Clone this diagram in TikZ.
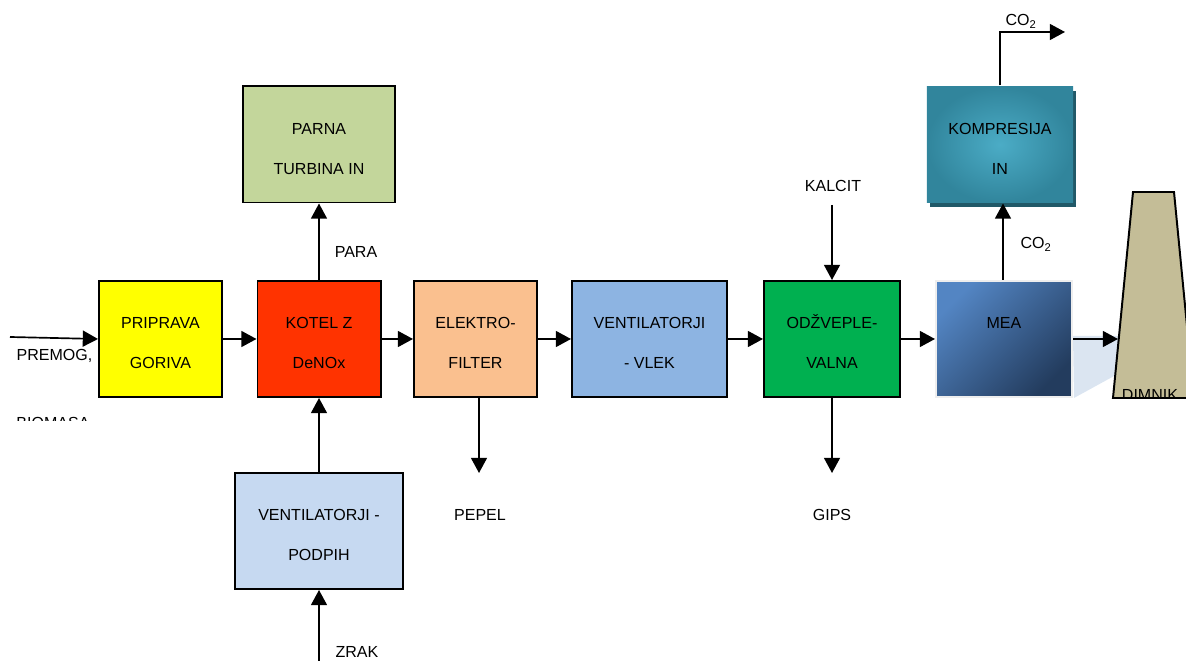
\documentclass[tikz,border=0pt]{standalone}
\usepackage{fontspec}
\setmainfont{Liberation Sans}
\usetikzlibrary{positioning, arrows.meta, shadows}

\definecolor{gorivo}{HTML}{FFFF00}
\definecolor{kotelc}{HTML}{FF3300}
\definecolor{filterc}{HTML}{FAC08F}
\definecolor{vlekc}{HTML}{8DB4E2}
\definecolor{odzvc}{HTML}{00B050}
\definecolor{turbc}{HTML}{C3D69B}
\definecolor{podpihc}{HTML}{C6D9F1}
\definecolor{meatop}{HTML}{5385C3}
\definecolor{meabot}{HTML}{233C5E}
\definecolor{meaedge}{HTML}{EEEEEE}
\definecolor{measenca}{HTML}{DBE5F1}
\definecolor{kompout}{HTML}{31859C}
\definecolor{kompin}{HTML}{4BACC6}
\definecolor{kompsenca}{HTML}{215968}
\definecolor{dimnikc}{HTML}{C4BD97}

% two lines of box text, pushed a little below the middle
\newcommand{\dvevrsti}[2]{\rule{0pt}{14pt}#1\\#2}

\tikzset{
  blok/.style    = {draw, line width=1.4pt, inner sep=0pt, minimum height=2.9cm,
                    align=center, font=\fontsize{11.4}{28.45}\selectfont},
  oznaka/.style  = {inner sep=0pt, anchor=base, font=\fontsize{11.4}{13.7}\selectfont},
  arr/.style     = {-{Triangle[length=0.38cm, width=0.4cm]}, line width=1.2pt}
}

\begin{document}
\begin{tikzpicture}[x=0.025cm, y=-0.025cm]
  \useasboundingbox (0,0) rectangle (1186,661);

  \fill[measenca] (1073,336) -- (1125,336) -- (1125,370) -- (1074,398) -- cycle;

  \node[blok, fill=gorivo,  minimum width=3.075cm] (prip)    at (160.5,339) {\dvevrsti{PRIPRAVA}{GORIVA}};
  \node[blok, fill=kotelc,  minimum width=3.075cm] (kotel)   at (319,339)   {\dvevrsti{KOTEL Z}{DeNOx}};
  \node[blok, fill=filterc, minimum width=3.075cm] (efilter) at (475.5,339) {\dvevrsti{ELEKTRO-}{FILTER}};
  \node[blok, fill=vlekc,   minimum width=3.875cm] (vlek)    at (649.5,339) {\dvevrsti{VENTILATORJI}{- VLEK}};
  \node[blok, fill=odzvc,   minimum width=3.4cm]   (odzv)    at (832,339)   {\dvevrsti{ODŽVEPLE-}{VALNA}};
  \node[blok, draw=meaedge, top color=meatop, bottom color=meabot, shading angle=45,
        minimum width=3.4cm] (mea) at (1004,339) {\dvevrsti{MEA}{}};
  \node[blok, fill=turbc,   minimum width=3.775cm] (turb)    at (319,144.5) {\dvevrsti{PARNA}{TURBINA IN}};
  \node[blok, fill=podpihc, minimum width=4.175cm] (podpih)  at (319,531)   {\dvevrsti{VENTILATORJI -}{PODPIH}};
  \node[blok, draw=none, inner color=kompin, outer color=kompout, minimum width=3.65cm,
        drop shadow={shadow xshift=0.08cm, shadow yshift=-0.12cm, fill=kompsenca, opacity=1}]
        (kompr) at (1000,144.5) {\dvevrsti{KOMPRESIJA}{IN}};

  % dimnik
  \fill[dimnikc] (1133,192) -- (1174,192) -- (1194,398) -- (1113,398) -- cycle;
  \begin{scope}
    \clip (1100,180) rectangle (1190,398);
    \node[oznaka] (dimnik) at (1150,400.5) {DIMNIK};
  \end{scope}
  \draw[line width=1.4pt] (1133,192) -- (1174,192) -- (1194,398) -- (1113,398) -- cycle;

  \node[oznaka] (premog) at (54.5,361) {PREMOG,};
  \begin{scope}
    \clip (0,0) rectangle (100,421);
    \node[oznaka] (biomasa) at (53,428.5) {BIOMASA};
  \end{scope}
  \node[oznaka] (para)   at (356,258) {PARA};
  \node[oznaka] (zrak)   at (357,658) {ZRAK};
  \node[oznaka] (pepel)  at (480,521) {PEPEL};
  \node[oznaka] (gips)   at (832,521) {GIPS};
  \node[oznaka] (kalcit) at (833,192) {KALCIT};
  \node[oznaka] (co2a)   at (1036,249) {CO\textsubscript{2}};
  \node[oznaka] (co2b)   at (1021,25.5) {CO\textsubscript{2}};

  \coordinate (vhod)    at (10,337);
  \coordinate (zrakin)  at (319,661);
  \coordinate (pepelend) at (479,473);
  \coordinate (kalcitin) at (832,205);
  \coordinate (gipsend) at (832,473);
  \coordinate (dimvhod) at (1118,339);
  \coordinate (kolen)   at (1000,32);
  \coordinate (co2end)  at (1065,32);

  \draw[arr] (vhod) -- (prip.west);
  \draw[arr] (prip) -- (kotel);
  \draw[arr] (kotel) -- (efilter);
  \draw[arr] (efilter) -- (vlek);
  \draw[arr] (vlek) -- (odzv);
  \draw[arr] (odzv) -- (mea);
  \draw[arr] (mea.east) -- (dimvhod);
  \draw[arr] (kotel) -- (turb);
  \draw[arr] (podpih) -- (kotel);
  \draw[arr] (zrakin) -- (podpih.south);
  \draw[arr] (efilter.south -| pepelend) -- (pepelend);
  \draw[arr] (kalcitin) -- (odzv.north);
  \draw[arr] (odzv.south) -- (gipsend);
  \draw[arr] (mea.north -| 1003,0) -- (kompr.south -| 1003,0);
  \draw[arr] (kompr.north) -- (kolen) -- (co2end);
\end{tikzpicture}
\end{document}
